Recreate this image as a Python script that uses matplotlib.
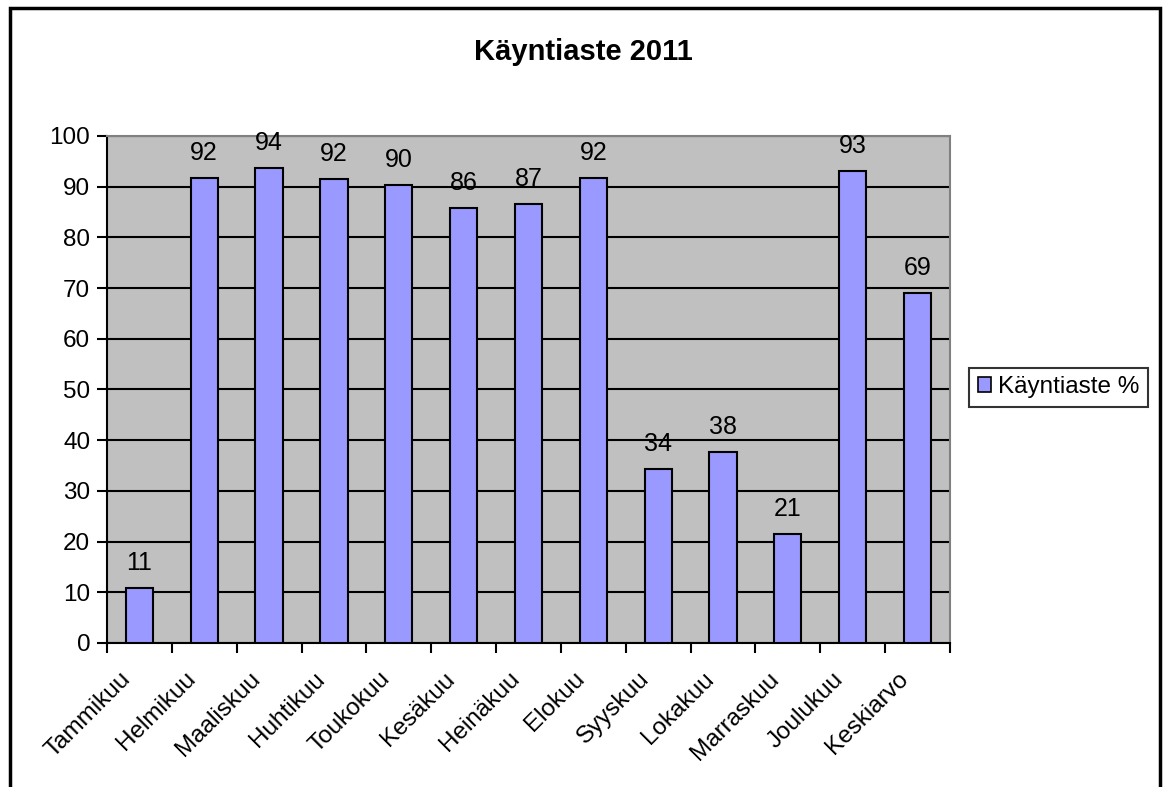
import numpy as np
import matplotlib
matplotlib.use("Agg")
import matplotlib.pyplot as plt
from matplotlib.patches import Rectangle
from matplotlib.transforms import ScaledTranslation

plt.rcParams['font.family'] = ['Liberation Sans', 'DejaVu Sans']

# Käyntiaste kuukausittain 2011
kuukaudet = ['Tammikuu', 'Helmikuu', 'Maaliskuu', 'Huhtikuu', 'Toukokuu', 'Kesäkuu',
             'Heinäkuu', 'Elokuu', 'Syyskuu', 'Lokakuu', 'Marraskuu', 'Joulukuu', 'Keskiarvo']
kayntiaste = [10.8, 91.8, 93.7, 91.5, 90.4, 85.8, 86.6, 91.8, 34.4, 37.7, 21.4, 93.0, 69.0]
y_ticks = np.arange(0, 101, 10)

bar_color = '#9999FF'
plot_bg = '#C0C0C0'
fs = 17.5

fig = plt.figure(figsize=(11.64, 7.87), dpi=100)
ax = fig.add_axes([0.0919, 0.1830, 0.7242, 0.6442])
ax.set_facecolor(plot_bg)

x = np.arange(len(kuukaudet))
bars = ax.bar(x, kayntiaste, width=0.42, color=bar_color, edgecolor='black',
              linewidth=1.5, zorder=3, label='Käyntiaste %')

for xi, v in zip(x, kayntiaste):
    ax.annotate('{:.0f}'.format(v), (xi, v), xytext=(0, 13), textcoords='offset points',
                ha='center', va='baseline', fontsize=18, zorder=4)

ax.set_xlim(-0.5, len(kuukaudet) - 0.5)
ax.set_ylim(0, 100)
ax.set_yticks(y_ticks)
ax.yaxis.grid(True, color='black', linewidth=1.5, zorder=1)
ax.set_axisbelow(True)

# kategorioiden väliset tikit
ax.set_xticks(np.arange(-0.5, len(kuukaudet), 1.0))
ax.set_xticklabels([])
ax.set_xticks(x, minor=True)
ax.set_xticklabels(kuukaudet, minor=True, rotation=45, ha='right',
                   rotation_mode='anchor', fontsize=fs)
ax.tick_params(axis='x', which='minor', length=0, pad=18)
ax.tick_params(axis='x', which='major', length=7, width=1.5, direction='out')
ax.tick_params(axis='y', length=7, width=1.5, direction='out', labelsize=fs, pad=5)
siirto = ScaledTranslation(-0.20, 0, fig.dpi_scale_trans)
for lbl in ax.get_xticklabels(minor=True):
    lbl.set_transform(lbl.get_transform() + siirto)

for side in ['left', 'bottom']:
    ax.spines[side].set_color('black')
    ax.spines[side].set_linewidth(1.5)
for side in ['top', 'right']:
    ax.spines[side].set_color('#808080')
    ax.spines[side].set_linewidth(1.5)

fig.text(0.501, 0.934, 'Käyntiaste 2011', ha='center', va='center',
         fontsize=21, fontweight='bold')

handle = Rectangle((0, 0), 1, 1, facecolor=bar_color, edgecolor='black', linewidth=1.2)
leg = fig.legend([handle], ['Käyntiaste %'], loc='center left',
                 bbox_to_anchor=(0.8325, 0.508), fontsize=fs, frameon=True,
                 fancybox=False, handlelength=0.55, handleheight=0.55,
                 handletextpad=0.3, borderpad=0.35, borderaxespad=0)
leg.get_frame().set_edgecolor('black')
leg.get_frame().set_linewidth(1.5)

# kaavion reunus
fig.patches.append(Rectangle((10 / 1164, -0.05), 1150 / 1164, 1 - 8 / 787 + 0.05,
                             transform=fig.transFigure, fill=False,
                             edgecolor='black', linewidth=2.5))

plt.savefig('out.png', dpi=100)
plt.close()
